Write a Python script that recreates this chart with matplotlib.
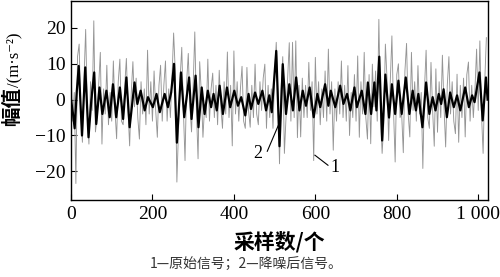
import matplotlib
matplotlib.use("Agg")
import matplotlib.pyplot as plt
import numpy as np

# original signal (gray), one value every 4 samples
gray_step = 4
gray_vals = [
    9, -6, 2, -23.4, 12, 15.5, -4, -11.9, 6, 19.6, -2, -12.4, 5, -3, 22, -9,
    -5, 4, 13.2, -12.4, 3, -4, 9.6, -7, 2, -6, 10.8, -3, -10.9, 5, 11.3, -6,
    -7, 4, 11.5, -3, -12.9, 2, 10.6, -2, 6, -5, -11, 5, -4, 3, -7, 13.8,
    -4, 5, -6, 8, -3, -10.5, 4, 9.6, -6, 4, 10.8, -6, 3, -5, 6, 18.6,
    8, -23, -8, 6, 14.6, -3, -17, 5, 12.9, -2, -9, 4, 18.9, -3, -16.5, 10.6,
    2, -10.5, -2, -5, 11.3, -6, 3, 7.4, -5, 4, -7, 8.2, -2, -8, 5, -4,
    13.3, -5, 4, -12.9, 13.6, -4, 5, -6, 3, 9.3, -6, -8, 9, -3, -7.7, 4,
    -5, 9.9, -4, -7, 5, -3, 6, 9.9, -8, 4, -5, 3, -8, 7, 16, 2,
    -17.9, 3, 12, -15, -5, 6, 15.9, -6, 16, -5, 16.4, -10.6, 4, -10.4, 6, -5,
    4, -5, 10.4, -3, 5, -17, 11.8, -4, 5, -7, 3, -5, 8, -6, 14.1, -4,
    5, -14.1, 3, -6, 5, -4, 10.8, -5, 4, -6, 9.5, -10, 2, -5, 7, -6,
    12.2, -10.5, 5, -4, 13.2, -5, -11, 7, -12.3, 9.9, -2, 8, -6, 22.4, -4, -15,
    -7, 15.5, 6, -11.4, 5, 17.8, -3, -17.4, 7, 10, -5, -4, -14.8, 8, 15.7, -4,
    -10.4, 13.2, -3, 5, -6, 9.5, -4, 2, -19.2, 3, 13.8, -5, -8, 10.4, -3, -13,
    8.6, -9.1, 5, -5, 12.4, -2, -13.2, 4, 12, -4, 5, -6, -9.5, 7.1, -11.9, 4,
    -5, 6, -10.4, 7, 10.5, -6, 4, -5, 3, 14.1, -3, 16.4, -4, -15, 5, 17.3,
]

# denoised signal (black), turning points
black_x = [0, 5, 9, 14, 19, 27, 35, 43, 50, 57, 62, 70, 77, 87, 95, 103, 111, 120,
           128, 136, 144, 156, 163, 171, 181, 189, 201, 210, 218, 230, 238, 246, 253,
           260, 270, 278, 290, 296, 306, 313, 321, 328, 336, 344, 350, 358, 365, 373,
           383, 391, 401, 410, 418, 428, 436, 442, 452, 460, 470, 479, 487, 493, 504,
           512, 520, 528, 536, 545, 553, 561, 569, 577, 586, 596, 605, 612, 624, 632,
           638, 649, 661, 669, 678, 686, 696, 702, 714, 723, 729, 737, 745, 750, 757,
           764, 772, 781, 788, 796, 804, 812, 822, 831, 839, 847, 853, 863, 872, 880,
           888, 895, 903, 909, 915, 923, 931, 940, 948, 956, 968, 977, 985, 991, 1003,
           1011, 1019, 1023]
black_y = [0, -4, -8, 2, 9.4, -10, 9, -10.5, 0, 7.6, -6.8, 3.4, -4, 2.5, -4.9, 4.3, -4.9, 3.4,
           -5.4, 6.2, -7.7, 4.8, -1.2, 2.5, -3, 0.7, -2.1, 1.6, -3.5, 1.6, -2.1, 2, 10,
           -12, 7.6, -4.9, 6.2, -5.4, 6.7, -7.7, 3.4, -4, 2.5, -2.1, 1.6, -3, 3.9, -4,
           3.4, -2.1, 2.5, -1.7, 0.7, -4.4, 1.6, -2.6, 2.0, -1.2, 2.5, -3, 1.2, -3.5, 13.6,
           -13, 9.9, -4, 4.3, -3, 6.2, -3, 2.5, -1.7, 3.4, -4.9, 1.6, -2.1, 4.3, -1.7,
           2.5, -2.1, 3.9, -1.2, 1.6, -3, 3.4, -2.1, 2.5, -4, 4.8, -4, 4.8, -3, 12,
           -11.4, 7, -5, 4.3, -4, 5.3, -4, 6.2, -4, 2.5, -3, 1.6, -7.7, 4.8, -4,
           0.7, -3, 1.6, -1.2, 2.9, -4.9, 2, -2.1, 1.2, -3, 3.4, -2.1, 1.2, -0.7, 7.6,
           -5.8, 6.2, 0]

xticks = [0, 200, 400, 600, 800, 1000]
xtick_labels = ["0", "200", "400", "600", "800", "1 000"]
yticks = [-20, -10, 0, 10, 20]

serif = ["Liberation Serif", "Noto Sans CJK SC", "DejaVu Serif"]
cjk = ["Noto Sans CJK SC", "Liberation Serif", "DejaVu Sans"]
plt.rcParams["font.family"] = serif
plt.rcParams["axes.unicode_minus"] = True

fig = plt.figure(figsize=(5.0, 2.77), dpi=100)
ax = fig.add_axes([0.142, 0.278, 0.834, 0.718])

gray_x = np.arange(len(gray_vals)) * gray_step
ax.plot(gray_x, gray_vals, color="#959595", lw=0.65)
ax.plot(black_x, black_y, color="black", lw=1.6)

# curve labels
ax.plot([482, 509], [-14.4, -7.2], color="black", lw=0.8)
ax.text(459, -15, "2", fontsize=13, ha="center", va="center")
ax.plot([599, 631], [-15.5, -18.3], color="black", lw=0.8)
ax.text(649, -18.9, "1", fontsize=13, ha="center", va="center")

ax.set_xlim(0, 1024)
ax.set_ylim(-28, 27.5)
ax.set_xticks(xticks)
ax.set_xticklabels(xtick_labels)
ax.set_yticks(yticks)
ax.tick_params(direction="in", length=4, width=0.8, labelsize=14, pad=4)
for s in ax.spines.values():
    s.set_linewidth(1.0)

# y label: bold CJK part + serif unit part
fig.text(13 / 500, 1 - 87 / 277, "幅值", rotation=90, ha="center", va="top",
         fontsize=14, family=cjk, fontweight="bold")
fig.text(14 / 500, 1 - 87 / 277, "/(m·s⁻²)", rotation=90, ha="center", va="bottom",
         fontsize=12, family=serif)
fig.text(279 / 500, 1 - 242 / 277, "采样数/个", ha="center", va="center",
         fontsize=15, family=cjk, fontweight="bold")
fig.text(246 / 500, 1 - 264 / 277, "1—原始信号；2—降噪后信号。", ha="center", va="center",
         fontsize=10, family=cjk, color="#333333")

fig.savefig("out.png", dpi=100)
